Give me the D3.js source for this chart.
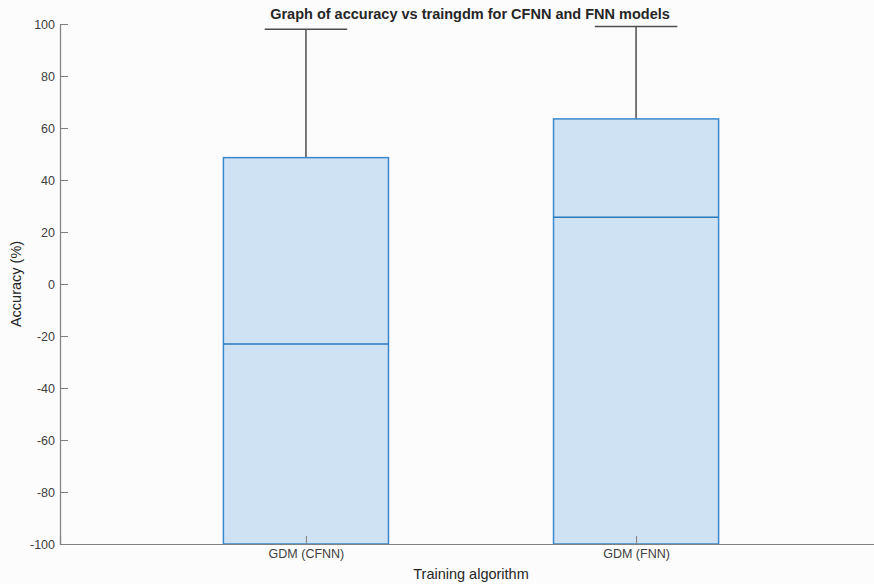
<!DOCTYPE html>
<html>
<head>
<meta charset="utf-8">
<script src="https://cdn.jsdelivr.net/npm/d3@7"></script>
<style>
  body { margin: 0; background: #fcfcfc; }
  text { font-family: "Liberation Sans", Arial, sans-serif; }
</style>
</head>
<body>
<script>
// valeurs
var categories = ["GDM (CFNN)", "GDM (FNN)"];
var whiskerLow = [-100, -100];
var q1 = [-100, -100];
var medians = [-23.1, 25.7];
var q3 = [48.6, 63.5];
var whiskerHigh = [98, 99];
var yTicks = [-100, -80, -60, -40, -20, 0, 20, 40, 60, 80, 100];

var width = 874, height = 584;
var margin = {top: 24, left: 60, bottom: 40, right: -8};

var svg = d3.select("body")
  .append("svg")
  .attr("width", width)
  .attr("height", height);

var x = d3.scaleLinear().domain([0.255, 2.745]).range([margin.left, width - margin.right]);
var y = d3.scaleLinear().domain([-100, 100]).range([height - margin.bottom, margin.top]);

var boxes = categories.map(function(c, i) {
  return {cat: c, pos: i + 1, lo: whiskerLow[i], q1: q1[i], med: medians[i], q3: q3[i], hi: whiskerHigh[i]};
});

var grey = "#808080", txt = "#404040";
var blue = "#3a88cc";

var g = svg.append("g");

// boites
var b = g.selectAll(".box").data(boxes).enter().append("g").attr("class", "box");
b.append("line")
  .attr("x1", d => x(d.pos)).attr("x2", d => x(d.pos))
  .attr("y1", d => y(d.q3)).attr("y2", d => y(d.hi))
  .attr("stroke", "#4d4d4d").attr("stroke-width", 1.5);
b.append("line")
  .attr("x1", d => x(d.pos - 0.125)).attr("x2", d => x(d.pos + 0.125))
  .attr("y1", d => y(d.hi)).attr("y2", d => y(d.hi))
  .attr("stroke", "#4d4d4d").attr("stroke-width", 1.5);
b.append("rect")
  .attr("x", d => x(d.pos - 0.25))
  .attr("width", d => x(d.pos + 0.25) - x(d.pos - 0.25))
  .attr("y", d => y(d.q3))
  .attr("height", d => y(d.q1) - y(d.q3))
  .attr("fill", "#cfe2f3")
  .attr("stroke", blue).attr("stroke-width", 1.5);
b.append("line")
  .attr("x1", d => x(d.pos - 0.25)).attr("x2", d => x(d.pos + 0.25))
  .attr("y1", d => y(d.med)).attr("y2", d => y(d.med))
  .attr("stroke", "#2a78be").attr("stroke-width", 1.5);

// axes
var yAxis = d3.axisLeft(y).tickValues(yTicks).tickFormat(d => String(d)).tickSize(-8).tickPadding(5);
var gy = svg.append("g").attr("transform", "translate(" + margin.left + ",0)").call(yAxis);
var xAxis = d3.axisBottom(x).tickValues([1, 2]).tickFormat((d, i) => categories[i]).tickSize(-8).tickPadding(11);
var gx = svg.append("g").attr("transform", "translate(0," + (height - margin.bottom) + ")").call(xAxis);

[gy, gx].forEach(function(a) {
  a.select(".domain").attr("stroke", grey).attr("stroke-width", 1.2);
  a.selectAll(".tick line").attr("stroke", grey);
  a.selectAll(".tick text").attr("fill", txt).attr("font-size", 12.5)
    .attr("font-family", "Liberation Sans, Arial, sans-serif");
});
gy.selectAll(".tick text").attr("x", -5);
gx.selectAll(".tick text").attr("dy", "0.2em");

svg.append("text")
  .attr("x", (x.range()[0] + x.range()[1]) / 2 - 1).attr("y", 19)
  .attr("text-anchor", "middle").attr("font-weight", "bold").attr("font-size", 14.5)
  .attr("fill", "#262626")
  .text("Graph of accuracy vs traingdm for CFNN and FNN models");

svg.append("text")
  .attr("x", (x.range()[0] + x.range()[1]) / 2).attr("y", 579)
  .attr("text-anchor", "middle").attr("font-size", 14.5).attr("fill", "#262626")
  .text("Training algorithm");

svg.append("text")
  .attr("transform", "translate(21," + y(0) + ") rotate(-90)")
  .attr("text-anchor", "middle").attr("font-size", 14.5).attr("fill", "#262626")
  .text("Accuracy (%)");
</script>
</body>
</html>
